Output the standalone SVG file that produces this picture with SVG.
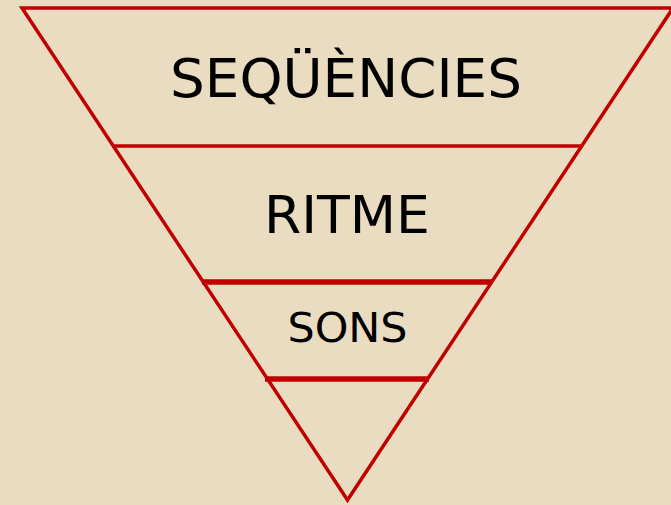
<svg xmlns="http://www.w3.org/2000/svg" width="671" height="505" viewBox="0 0 671 505">
<style>
.edge{fill:none;stroke:#C00000;stroke-width:3.5;stroke-linejoin:miter}
.thin{stroke:#C00000;stroke-width:3.5}
.thick{stroke:#C00000;stroke-width:5.5}
.lbl{font-family:"DejaVu Sans",Verdana,sans-serif;fill:#000;text-anchor:middle}
</style>
<rect width="671" height="505" fill="#EADCC1"/>
<g id="connectors">
<polygon class="edge" points="22,8 673,8 347.5,500"/>
<line class="thin" x1="112" y1="146" x2="583" y2="146"/>
<line class="thick" x1="202" y1="282" x2="492" y2="282"/>
<line class="thick" x1="265" y1="379" x2="429" y2="379"/>
</g>
<g id="sequencies"><text class="lbl" x="346" y="97" font-size="53" textLength="352" lengthAdjust="spacingAndGlyphs">SEQÜÈNCIES</text></g>
<g id="ritme"><text class="lbl" x="347" y="233" font-size="52" textLength="166" lengthAdjust="spacingAndGlyphs">RITME</text></g>
<g id="sons"><text class="lbl" x="347.5" y="342" font-size="41" textLength="120" lengthAdjust="spacingAndGlyphs">SONS</text></g>
</svg>
